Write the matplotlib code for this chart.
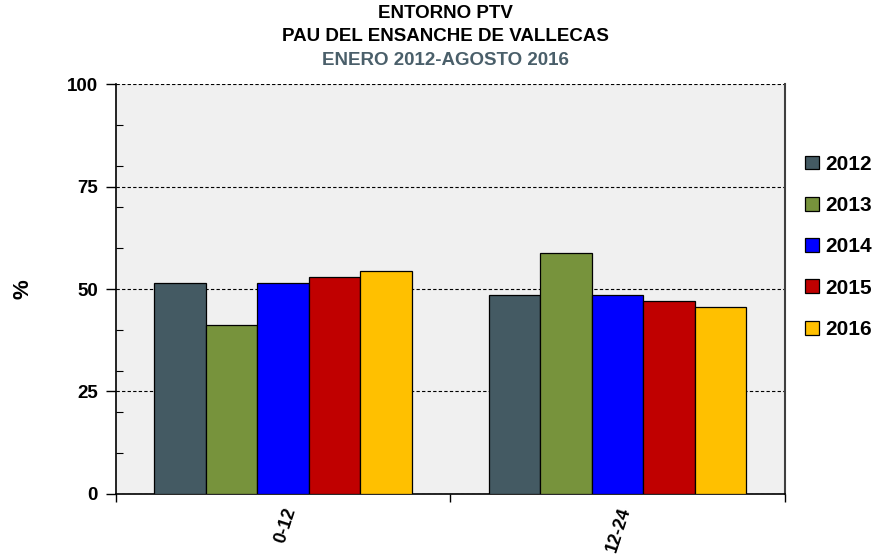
import matplotlib
matplotlib.use("Agg")
import matplotlib.pyplot as plt
import numpy as np
from matplotlib.ticker import MultipleLocator

plt.rcParams['font.family'] = ['Liberation Sans', 'DejaVu Sans']

categories = ["0-12", "12-24"]
years = ["2012", "2013", "2014", "2015", "2016"]
values = {
    "2012": [51.5, 48.5],
    "2013": [41.3, 58.7],
    "2014": [51.5, 48.5],
    "2015": [52.9, 47.1],
    "2016": [54.3, 45.7],
}
colors = ["#445A63", "#77933C", "#0000FF", "#C00000", "#FFC000"]
yticks = [0, 25, 50, 75, 100]

fig = plt.figure(figsize=(8.75, 5.59), dpi=100)
ax = fig.add_axes([0.1326, 0.1163, 0.897 - 0.1326, 0.8497 - 0.1163])
ax.set_facecolor("#F0F0F0")

x = np.arange(len(categories))
w = 0.154
for i, (yr, c) in enumerate(zip(years, colors)):
    ax.bar(x + (i - 2) * w, values[yr], width=w, color=c, edgecolor="black",
           linewidth=0.9, label=yr, zorder=3)

ax.set_xlim(-0.5, 1.5)
ax.set_ylim(0, 100)
ax.set_yticks(yticks)
ax.set_yticklabels([str(t) for t in yticks], fontsize=13.5, fontweight="bold")
ax.yaxis.set_minor_locator(MultipleLocator(10))
ax.tick_params(axis="y", which="major", direction="out", length=7, width=1, pad=6)
ax.tick_params(axis="y", which="minor", direction="in", length=5, width=0.8)
ax.yaxis.grid(True, which="major", linestyle=(0, (3, 2)), color="black", linewidth=0.8, zorder=1)

ax.set_xticks([-0.5, 0.5, 1.5])
ax.set_xticklabels([])
ax.set_xticks(x, minor=True)
ax.set_xticklabels(categories, minor=True, rotation=72, ha="right", va="top",
                   rotation_mode="anchor", fontsize=13, fontweight="bold")
ax.tick_params(axis="x", which="major", direction="out", length=6, width=1)
ax.tick_params(axis="x", which="minor", length=0, pad=8)

ax.spines["top"].set_visible(False)
ax.spines["left"].set_linewidth(1.2)
ax.spines["bottom"].set_linewidth(1.2)
ax.spines["right"].set_color("#404040")
ax.spines["right"].set_linewidth(1.5)

ax.set_ylabel("%", fontsize=16, fontweight="bold", labelpad=24)

fig.text(0.5086, 0.975, "ENTORNO PTV", ha="center", va="center", fontsize=13.5, fontweight="bold")
fig.text(0.5086, 0.934, "PAU DEL ENSANCHE DE VALLECAS", ha="center", va="center", fontsize=13.5, fontweight="bold")
fig.text(0.5086, 0.891, "ENERO 2012-AGOSTO 2016", ha="center", va="center", fontsize=13.5,
         fontweight="bold", color="#4A5F6A")

leg = fig.legend(loc="upper left", bbox_to_anchor=(0.911, 0.738), frameon=False,
                 prop={"weight": "bold", "size": 15}, handlelength=0.65, handleheight=0.65,
                 handletextpad=0.3, labelspacing=1.07, borderaxespad=0)

fig.savefig("out.png", dpi=100)
